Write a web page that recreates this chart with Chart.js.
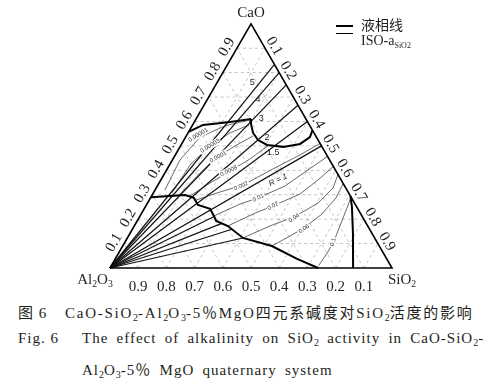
<!DOCTYPE html>
<html>
<head>
<meta charset="utf-8">
<script src="https://cdn.jsdelivr.net/npm/chart.js@4.4.1/dist/chart.umd.min.js"></script>
<style>
  html, body { margin:0; padding:0; background:#fff; }
  body { width:496px; height:389px; position:relative; overflow:hidden; font-family:"Liberation Serif","Noto Sans CJK SC",serif; color:#231f20; }
  #wrap { position:absolute; left:0; top:0; width:496px; height:295px; }
  .cap { position:absolute; font-size:15px; white-space:nowrap; letter-spacing:1px; }
  .cap sub { font-size:10px; vertical-align:-3px; line-height:0; letter-spacing:0; }
  .cjk { font-family:"Noto Sans CJK SC",sans-serif; }
  .leg { position:absolute; left:336px; width:17px; background:#000; }
</style>
</head>
<body>
<div id="wrap"><canvas id="tern" width="496" height="295"></canvas></div>
<div class="leg" style="top:25px;height:2px"></div>
<div class="leg" style="top:33px;height:1px"></div>
<div class="cap" style="left:18px;top:301px">图 6</div>
<div class="cap" style="left:65px;top:301px;letter-spacing:1.75px">CaO-SiO<sub>2</sub>-Al<sub>2</sub>O<sub>3</sub>-5<span class="cjk">％</span>MgO<span class="cjk">四元系碱度对</span>SiO<sub>2</sub><span class="cjk">活度的影响</span></div>
<div class="cap" style="left:18px;top:330px">Fig. 6</div>
<div class="cap" style="left:82px;top:330px;word-spacing:3.5px">The effect of alkalinity on SiO<sub>2</sub> activity in CaO-SiO<sub>2</sub>-</div>
<div class="cap" style="left:82px;top:358px;word-spacing:3.5px">Al<sub>2</sub>O<sub>3</sub>-5<span class="cjk">％</span> MgO quaternary system</div>
<script>
const R3 = Math.sqrt(3) / 2;

// compositions are [CaO, SiO2] mass fractions, Al2O3 = 1 - CaO - SiO2
const tickValues = [0.1, 0.2, 0.3, 0.4, 0.5, 0.6, 0.7, 0.8, 0.9];
const basicity = [5, 4, 3, 2, 1.5, 1, 0.8, 0.6, 0.45, 0.3];

const liquidusUpper = [[0.557, 0], [0.586, 0.037], [0.598, 0.127], [0.610, 0.192], [0.590, 0.205],
  [0.553, 0.231], [0.524, 0.263], [0.504, 0.305], [0.496, 0.366], [0.508, 0.420], [0.536, 0.441], [0.564, 0.436]];
const liquidusLower = [[0.29, 0], [0.299, 0.116], [0.287, 0.154], [0.258, 0.183], [0.242, 0.234],
  [0.213, 0.262], [0.193, 0.280], [0.172, 0.332], [0.123, 0.410], [0.090, 0.529], [0.037, 0.645], [0, 0.738]];
const liquidusSilica = [[0.295, 0.705], [0.25, 0.733], [0.143, 0.79], [0, 0.862]];

const isoValues = ['0.00001', '0.00003', '0.0001', '0.0008', '0.002', '0.01', '0.02', '0.04', '0.06', '0.1'];
const isoCurves = [
  [[0.319, 0.035], [0.442, 0.027], [0.536, 0.051], [0.582, 0.117], [0.606, 0.19]],
  [[0.307, 0.066], [0.422, 0.073], [0.500, 0.105], [0.553, 0.149], [0.586, 0.2]],
  [[0.303, 0.097], [0.389, 0.125], [0.455, 0.152], [0.500, 0.194], [0.541, 0.237]],
  [[0.295, 0.136], [0.348, 0.181], [0.397, 0.227], [0.446, 0.273], [0.50, 0.31]],
  [[0.278, 0.166], [0.311, 0.234], [0.340, 0.302], [0.410, 0.380], [0.463, 0.442], [0.51, 0.49]],
  [[0.213, 0.262], [0.262, 0.330], [0.287, 0.382], [0.336, 0.453], [0.393, 0.495], [0.457, 0.543]],
  [[0.172, 0.332], [0.225, 0.402], [0.254, 0.451], [0.303, 0.522], [0.360, 0.557], [0.416, 0.584]],
  [[0.123, 0.410], [0.172, 0.481], [0.209, 0.548], [0.266, 0.605], [0.328, 0.627], [0.383, 0.617]],
  [[0.090, 0.529], [0.131, 0.573], [0.164, 0.606], [0.221, 0.641], [0.287, 0.658], [0.346, 0.654]],
  [[0.01, 0.735], [0.066, 0.740], [0.131, 0.736], [0.205, 0.724], [0.29, 0.71]]
];

const toPt = ([c, s]) => ({ x: s + c / 2, y: c * R3 });

// where a basicity ray from the Al2O3 corner meets the lower liquidus
function cutAtLiquidus(end) {
  const pts = liquidusLower.map(toPt);
  for (let i = 0; i < pts.length - 1; i++) {
    const a = pts[i], b = pts[i + 1];
    const dx = b.x - a.x, dy = b.y - a.y;
    const det = -end.x * dy + dx * end.y;
    if (Math.abs(det) < 1e-9) continue;
    const t = (-a.x * dy + dx * a.y) / det;
    const u = (end.x * a.y - end.y * a.x) / det;
    if (u >= 0 && u <= 1 && t > 0 && t <= 1) return { x: end.x * t, y: end.y * t };
  }
  return end;
}

const datasets = [];
const line = (data, color, width, dash, order) => datasets.push({
  data, borderColor: color, borderWidth: width, borderDash: dash || [],
  showLine: true, pointRadius: 0, fill: false, tension: 0, order: order || 0
});

// dashed grid
tickValues.forEach(v => {
  line([toPt([v, 0]), toPt([v, 1 - v])], '#b5b5b5', 0.8, [3, 3], 10);
  line([toPt([0, v]), toPt([1 - v, v])], '#b5b5b5', 0.8, [3, 3], 10);
  line([toPt([0, 1 - v]), toPt([1 - v, 0])], '#b5b5b5', 0.8, [3, 3], 10);
});

// iso-activity curves
isoCurves.forEach(c => line(c.map(toPt), '#444', 0.8, null, 5));

// iso-basicity lines
basicity.forEach(r => {
  const end = toPt([r / (1 + r), 1 / (1 + r)]);
  const stop = r < 1 ? cutAtLiquidus(end) : end;
  line([{ x: 0, y: 0 }, stop], '#111', 1.2, null, 4);
});

// liquidus
[liquidusUpper, liquidusLower, liquidusSilica].forEach(l => line(l.map(toPt), '#000', 2, null, 2));

// triangle
line([toPt([0, 0]), toPt([0, 1]), toPt([1, 0]), toPt([0, 0])], '#000', 1.6, null, 1);

const isoLabelAt = [[0.545, 0.040, -0.55], [0.500, 0.105, -0.55], [0.455, 0.156, -0.5], [0.397, 0.223, -0.45],
  [0.336, 0.297, -0.4], [0.287, 0.382, -0.45], [0.254, 0.451, -0.5], [0.205, 0.550, -0.55], [0.160, 0.608, -0.6], [0.106, 0.738, -1.3]];
const rLabelAt = [['5', 0.758, 0.125], ['4', 0.688, 0.181], ['3', 0.614, 0.229], ['2', 0.536, 0.289], ['1.5', 0.471, 0.343]];

function subText(ctx, parts, x, y, size) {
  // parts: [text, isSub]
  let w = 0;
  parts.forEach(([t, sub]) => { ctx.font = (sub ? size * 0.65 : size) + 'px "Liberation Serif"'; w += ctx.measureText(t).width; });
  let cx = x - w / 2;
  ctx.textAlign = 'left';
  parts.forEach(([t, sub]) => {
    ctx.font = (sub ? size * 0.65 : size) + 'px "Liberation Serif"';
    ctx.fillText(t, cx, sub ? y + size * 0.3 : y);
    cx += ctx.measureText(t).width;
  });
}

const ternText = {
  id: 'ternText',
  afterDatasetsDraw(chart) {
    const { ctx, scales: { x, y } } = chart;
    const P = (c, s) => { const p = toPt([c, s]); return [x.getPixelForValue(p.x), y.getPixelForValue(p.y)]; };
    ctx.save();
    ctx.fillStyle = '#231f20';
    ctx.textBaseline = 'middle';
    ctx.textAlign = 'center';
    ctx.font = '15px "Liberation Serif"';
    tickValues.forEach(v => {
      // Al2O3 along the base
      let [px, py] = P(0, 1 - v);
      ctx.fillText(String(v), px, py + 19);
      // CaO along the left side
      [px, py] = P(v, 0);
      ctx.save(); ctx.translate(px - 10, py - 1); ctx.rotate(-Math.PI / 3); ctx.fillText(String(v), 0, 0); ctx.restore();
      // SiO2 along the right side
      [px, py] = P(1 - v, v);
      ctx.save(); ctx.translate(px + 9, py - 2); ctx.rotate(Math.PI / 3); ctx.fillText(String(v), 0, 0); ctx.restore();
    });
    // corners
    let [px, py] = P(1, 0);
    subText(ctx, [['CaO', 0]], px, py - 11, 15);
    [px, py] = P(0, 0);
    subText(ctx, [['Al', 0], ['2', 1], ['O', 0], ['3', 1]], px - 15, py + 12, 15);
    [px, py] = P(0, 1);
    subText(ctx, [['SiO', 0], ['2', 1]], px + 10, py + 12, 15);

    // basicity labels
    ctx.font = '9px "Liberation Sans"';
    ctx.textAlign = 'center';
    rLabelAt.forEach(([t, c, s]) => { const [a, b] = P(c, s); ctx.fillText(t, a, b); });
    let [ra, rb] = P(0.360, 0.416);
    ctx.save(); ctx.translate(ra, rb); ctx.rotate(-0.45); ctx.font = 'italic 8px "Liberation Sans"'; ctx.fillText('R = 1', 0, 0); ctx.restore();

    // activity labels
    ctx.font = '6px "Liberation Sans"';
    ctx.fillStyle = '#333';
    isoValues.forEach((t, i) => {
      const [c, s, rot] = isoLabelAt[i];
      const [a, b] = P(c, s);
      ctx.save(); ctx.translate(a, b); ctx.rotate(rot);
      const w = ctx.measureText(t).width;
      ctx.fillStyle = '#fff'; ctx.fillRect(-w / 2 - 1, -3.5, w + 2, 7);
      ctx.fillStyle = '#333'; ctx.fillText(t, 0, 0);
      ctx.restore();
    });

    // legend text
    ctx.fillStyle = '#231f20';
    ctx.textAlign = 'left';
    ctx.font = '14px "Noto Sans CJK SC"';
    ctx.fillText('液相线', 361, 25);
    ctx.font = '14px "Liberation Serif"';
    ctx.fillText('ISO-a', 361, 41);
    const wIso = ctx.measureText('ISO-a').width;
    ctx.font = '8px "Liberation Serif"';
    ctx.fillText('SiO2', 361 + wIso, 46);
    ctx.restore();
  }
};

new Chart(document.getElementById('tern'), {
  type: 'scatter',
  data: { datasets },
  options: {
    responsive: false,
    animation: false,
    layout: { padding: 0 },
    plugins: { legend: { display: false }, tooltip: { enabled: false } },
    scales: {
      x: { type: 'linear', display: false, min: -110 / 282, max: 386 / 282 },
      y: { type: 'linear', display: false, min: -27 / 282, max: 268 / 282 }
    }
  },
  plugins: [ternText]
});
</script>
</body>
</html>
